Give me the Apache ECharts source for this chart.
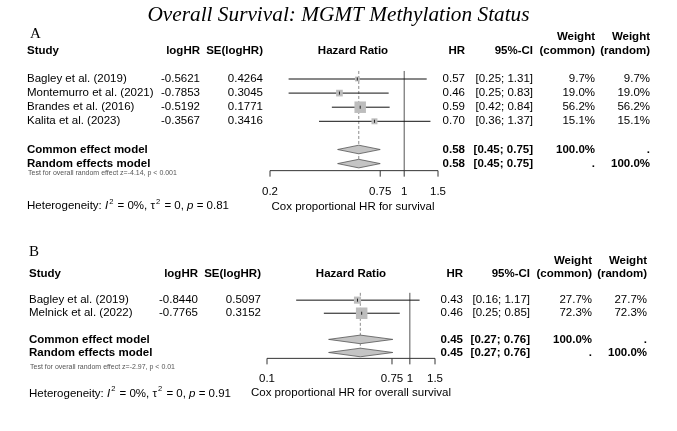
<!DOCTYPE html>
<html lang="en">
<head>
<meta charset="utf-8">
<title>Overall Survival: MGMT Methylation Status</title>
<script src="https://cdn.jsdelivr.net/npm/echarts@6/dist/echarts.min.js"></script>
<style>
  html, body { margin: 0; padding: 0; background: #fff; }
  #main { width: 677px; height: 431px; }
</style>
</head>
<body>
<div id="main"></div>
<script type="text/javascript">
// ---- panel A : survival ----
var studiesA = ['Bagley et al. (2019)', 'Montemurro et al. (2021)', 'Brandes et al. (2016)', 'Kalita et al. (2023)'];
var logHRA = [-0.5621, -0.7853, -0.5192, -0.3567];
var seA = [0.4264, 0.3045, 0.1771, 0.3416];
var hrA = [0.57, 0.46, 0.59, 0.70];
var loA = [0.25, 0.25, 0.42, 0.36];
var hiA = [1.31, 0.83, 0.84, 1.37];
var wCommonA = [9.7, 19.0, 56.2, 15.1];
var wRandomA = [9.7, 19.0, 56.2, 15.1];
var pooledA = [0.58, 0.45, 0.75];   // est, lo, hi (same for common + random)
var ticksA = [0.2, 0.75, 1, 1.5];

// ---- panel B : overall survival ----
var studiesB = ['Bagley et al. (2019)', 'Melnick et al. (2022)'];
var logHRB = [-0.8440, -0.7765];
var seB = [0.5097, 0.3152];
var hrB = [0.43, 0.46];
var loB = [0.16, 0.25];
var hiB = [1.17, 0.85];
var wCommonB = [27.7, 72.3];
var wRandomB = [27.7, 72.3];
var pooledB = [0.45, 0.27, 0.76];
var ticksB = [0.1, 0.75, 1, 1.5];

var SANS = '"Liberation Sans", Arial, sans-serif';
var SERIF = '"Liberation Serif", "Times New Roman", serif';
var FS = 11.5;

var panels = [
  {
    letter: 'A', studies: studiesA, logHR: logHRA, se: seA, hr: hrA, lo: loA, hi: hiA,
    wc: wCommonA, wr: wRandomA, pooled: pooledA, ticks: ticksA,
    xlab: 'Cox proportional HR for survival',
    test: 'Test for overall random effect z=-4.14, p < 0.001',
    het: '0.81',
    left: 270, row0: 79, step: 14.1,
    col: { study: 27, logHR: 200, se: 263, mid: 353, hr: 465, ci: 533, wc: 595, wr: 650, letter: 30 },
    rows: { letter: -3.2, axis: 6.5, tickLab: 8, xlab: 9.05, test: 6.7, het: 8.9, refTop: -0.57 }
  },
  {
    letter: 'B', studies: studiesB, logHR: logHRB, se: seB, hr: hrB, lo: loB, hi: hiB,
    wc: wCommonB, wr: wRandomB, pooled: pooledB, ticks: ticksB,
    xlab: 'Cox proportional HR for overall survival',
    test: 'Test for overall random effect z=-2.97, p < 0.01',
    het: '0.91',
    left: 267, row0: 305, step: 14.3,
    col: { study: 29, logHR: 198, se: 261, mid: 351, hr: 463, ci: 530, wc: 592, wr: 647, letter: 29 },
    rows: { letter: -3.65, axis: 4.45, tickLab: 6, xlab: 7.05, test: 5.15, het: 7.05, refTop: -0.56 }
  }
];

function pct(v) { return v.toFixed(1) + '%'; }
function ci(lo, hi) { return '[' + lo.toFixed(2) + '; ' + hi.toFixed(2) + ']'; }

function buildCells(p) {
  var c = p.col, cells = [];
  function add(row, x, text, align, extra) {
    var o = { row: row, x: x, text: text, align: align };
    for (var k in extra) o[k] = extra[k];
    cells.push(o);
  }
  var B = { bold: true };
  add(p.rows.letter, c.letter, p.letter, 'left', { font: SERIF, size: 15 });
  add(-2, c.study, 'Study', 'left', B);
  add(-2, c.logHR, 'logHR', 'right', B);
  add(-2, c.se, 'SE(logHR)', 'right', B);
  add(-2, c.mid, 'Hazard Ratio', 'center', B);
  add(-2, c.hr, 'HR', 'right', B);
  add(-2, c.ci, '95%-CI', 'right', B);
  add(-3, c.wc, 'Weight', 'right', B);
  add(-2, c.wc, '(common)', 'right', B);
  add(-3, c.wr, 'Weight', 'right', B);
  add(-2, c.wr, '(random)', 'right', B);
  for (var i = 0; i < p.studies.length; i++) {
    add(i, c.study, p.studies[i], 'left');
    add(i, c.logHR, p.logHR[i].toFixed(4), 'right');
    add(i, c.se, p.se[i].toFixed(4), 'right');
    add(i, c.hr, p.hr[i].toFixed(2), 'right');
    add(i, c.ci, ci(p.lo[i], p.hi[i]), 'right');
    add(i, c.wc, pct(p.wc[i]), 'right');
    add(i, c.wr, pct(p.wr[i]), 'right');
  }
  var rc = p.studies.length + 1, rr = rc + 1;
  add(rc, c.study, 'Common effect model', 'left', B);
  add(rc, c.hr, p.pooled[0].toFixed(2), 'right', B);
  add(rc, c.ci, ci(p.pooled[1], p.pooled[2]), 'right', B);
  add(rc, c.wc, '100.0%', 'right', B);
  add(rc, c.wr, '.', 'right', B);
  add(rr, c.study, 'Random effects model', 'left', B);
  add(rr, c.hr, p.pooled[0].toFixed(2), 'right', B);
  add(rr, c.ci, ci(p.pooled[1], p.pooled[2]), 'right', B);
  add(rr, c.wc, '.', 'right', B);
  add(rr, c.wr, '100.0%', 'right', B);
  add(p.rows.test, c.study + 1, p.test, 'left', { size: 7, color: '#555' });
  add(p.rows.het, c.study, '{n|Heterogeneity: }{i|I}{s|2}{n| = 0%, τ}{s|2}{n| = 0, }{i|p}{n| = ' + p.het + '}', 'left', { rich: true });
  add(p.rows.xlab, c.mid, p.xlab, 'center');
  return cells;
}

var myChart = echarts.init(document.getElementById('main'));
var grids = [], xAxes = [], yAxes = [], series = [];

panels.forEach(function (p, pi) {
  var nS = p.studies.length;
  var rowCommon = nS + 1, rowRandom = nS + 2;
  grids.push({ left: p.left, width: 168, top: p.row0 - 4 * p.step, height: 14 * p.step });
  xAxes.push({ gridIndex: pi, type: 'log', logBase: 10, min: p.ticks[0], max: p.ticks[p.ticks.length - 1], show: false });
  yAxes.push({ gridIndex: pi, type: 'value', inverse: true, min: -4, max: 10, show: false });
  var ax = { xAxisIndex: pi, yAxisIndex: pi, type: 'custom', silent: true, encode: { x: 0, y: 1 } };

  // reference lines: no effect (1) and pooled random estimate (dashed)
  series.push(Object.assign({}, ax, {
    z: 1,
    data: [[1, p.rows.refTop, p.rows.axis], [p.pooled[0], p.rows.refTop, rowRandom]],
    renderItem: function (params, api) {
      var a = api.coord([api.value(0), api.value(1)]);
      var b = api.coord([api.value(0), api.value(2)]);
      var dashed = params.dataIndex === 1;
      return {
        type: 'line',
        shape: { x1: a[0], y1: a[1], x2: b[0], y2: b[1] },
        style: { stroke: dashed ? '#8a8a8a' : '#555', lineWidth: 1, lineDash: dashed ? [3, 2] : null }
      };
    }
  }));

  // study CIs and weighted squares
  var wMax = Math.max.apply(null, p.wc);
  var studyData = p.hr.map(function (h, i) { return [h, i, p.lo[i], p.hi[i], p.wc[i]]; });
  series.push(Object.assign({}, ax, {
    z: 3,
    data: studyData,
    renderItem: function (params, api) {
      var row = api.value(1);
      var m = api.coord([api.value(0), row]);
      var l = api.coord([api.value(2), row]);
      var h = api.coord([api.value(3), row]);
      var s = 11.5 * Math.sqrt(api.value(4) / wMax);
      return {
        type: 'group',
        children: [
          { type: 'line', shape: { x1: l[0], y1: m[1], x2: h[0], y2: m[1] }, style: { stroke: '#111', lineWidth: 1 } },
          { type: 'rect', shape: { x: m[0] - s / 2, y: m[1] - s / 2, width: s, height: s }, style: { fill: '#bdbdbd' } },
          { type: 'line', shape: { x1: m[0], y1: m[1] - 1.5, x2: m[0], y2: m[1] + 1.5 }, style: { stroke: '#222', lineWidth: 1 } }
        ]
      };
    }
  }));

  // pooled diamonds
  series.push(Object.assign({}, ax, {
    z: 4,
    data: [[p.pooled[0], rowCommon, p.pooled[1], p.pooled[2]], [p.pooled[0], rowRandom, p.pooled[1], p.pooled[2]]],
    renderItem: function (params, api) {
      var row = api.value(1);
      var m = api.coord([api.value(0), row]);
      var l = api.coord([api.value(2), row]);
      var h = api.coord([api.value(3), row]);
      return {
        type: 'polygon',
        shape: { points: [[l[0], m[1]], [m[0], m[1] - 4.3], [h[0], m[1]], [m[0], m[1] + 4.3]] },
        style: { fill: '#c4c4c4', stroke: '#555', lineWidth: 0.8 }
      };
    }
  }));

  // x axis: line, ticks, labels
  series.push(Object.assign({}, ax, {
    z: 2,
    data: [[p.ticks[0], p.rows.axis]],
    renderItem: function (params, api) {
      var row = p.rows.axis;
      var a = api.coord([p.ticks[0], row]);
      var b = api.coord([p.ticks[p.ticks.length - 1], row]);
      var ch = [{ type: 'line', shape: { x1: a[0], y1: a[1], x2: b[0], y2: b[1] }, style: { stroke: '#333', lineWidth: 1 } }];
      p.ticks.forEach(function (t) {
        var q = api.coord([t, row]);
        var ly = api.coord([t, p.rows.tickLab])[1];
        ch.push({ type: 'line', shape: { x1: q[0], y1: q[1], x2: q[0], y2: q[1] + 6 }, style: { stroke: '#333', lineWidth: 1 } });
        ch.push({ type: 'text', style: { x: q[0], y: ly, text: String(t), align: 'center', verticalAlign: 'middle', fontFamily: SANS, fontSize: FS, fill: '#000' } });
      });
      return { type: 'group', children: ch };
    }
  }));

  // table text
  var cells = buildCells(p);
  series.push(Object.assign({}, ax, {
    z: 5,
    data: cells.map(function (c) { return [1, c.row]; }),
    renderItem: function (params, api) {
      var c = cells[params.dataIndex];
      var y = api.coord([1, c.row])[1];
      var st = {
        x: c.x, y: y, text: c.text, align: c.align, verticalAlign: 'middle',
        fontFamily: c.font || SANS, fontSize: c.size || FS,
        fontWeight: c.bold ? 'bold' : 'normal', fill: c.color || '#000'
      };
      if (c.rich) {
        st.rich = {
          n: { fontFamily: SANS, fontSize: FS, fill: '#000', verticalAlign: 'bottom', lineHeight: 14 },
          i: { fontFamily: SANS, fontSize: FS, fontStyle: 'italic', fill: '#000', verticalAlign: 'bottom', lineHeight: 14 },
          s: { fontFamily: SANS, fontSize: 7.5, fill: '#000', verticalAlign: 'top', lineHeight: 14, padding: [0, 1, 0, 1] }
        };
      }
      return { type: 'text', style: st };
    }
  }));
});

var option = {
  animation: false,
  backgroundColor: '#fff',
  title: {
    text: 'Overall Survival: MGMT Methylation Status',
    left: 'center', top: 0,
    textStyle: { fontFamily: SERIF, fontStyle: 'italic', fontWeight: 'normal', fontSize: 21.3, color: '#000' }
  },
  grid: grids,
  xAxis: xAxes,
  yAxis: yAxes,
  series: series
};

if (option && typeof option === 'object') {
  myChart.setOption(option, true);
}
</script>
</body>
</html>
